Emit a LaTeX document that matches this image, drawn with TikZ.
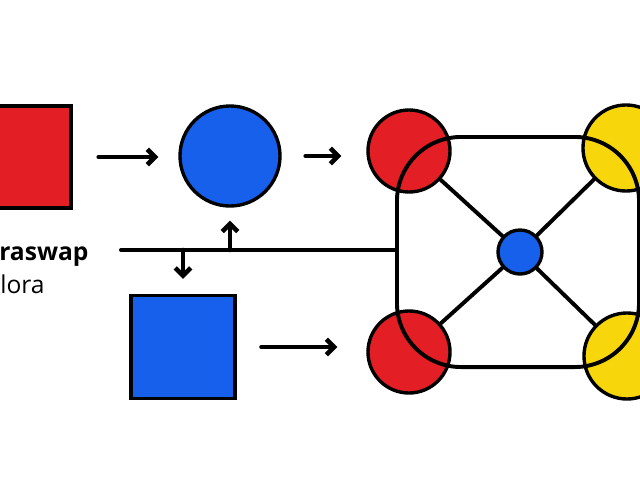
\documentclass[tikz,border=0pt]{standalone}
\usepackage{fontspec}
\setmainfont{Open Sans}
\usetikzlibrary{calc,arrows.meta,backgrounds}
\definecolor{sqred}{RGB}{227, 30, 36}
\definecolor{sqblue}{RGB}{22, 96, 235}
\definecolor{dotyellow}{RGB}{247, 215, 12}
\tikzset{
  blob/.style={circle,draw,line width=2.4pt,inner sep=0pt},
  tile/.style={rectangle,draw,line width=2.4pt,inner sep=0pt},
  arr/.style={line width=3.3pt,line cap=round,-{Straight Barb[length=5.5pt,width=11pt]}},
  bus/.style={line width=2.8pt,line cap=round},
}
\begin{document}
\begin{tikzpicture}[x=0.025cm,y=-0.025cm]
    \useasboundingbox (0,0) rectangle (640,480);
      % shapes
      \node[tile,fill=sqred,minimum width=2.6cm,minimum height=2.55cm] (rs) at (19,157) {};
      \node[blob,fill=sqblue,minimum size=2.5cm] (bc) at (230,156) {};
      \node[tile,fill=sqblue,minimum width=2.6cm,minimum height=2.58cm] (bs) at (183,347) {};
      \node[blob,fill=sqred,minimum size=2.05cm] (r1) at (409,151) {};
      \node[blob,fill=sqred,minimum size=2.05cm] (r2) at (409,352) {};
      \node[blob,fill=dotyellow,minimum size=2.15cm] (y1) at (626,148) {};
      \node[blob,fill=dotyellow,minimum size=2.15cm] (y2) at (627,356) {};
      \node[blob,fill=sqblue,minimum size=1.1cm] (cb) at (520,252) {};
      \begin{pgfonlayer}{background}
        \draw[bus] (cb) -- (r1);
        \draw[bus] (cb) -- (r2);
        \draw[bus] (cb) -- (y1);
        \draw[bus] (cb) -- (y2);
      \end{pgfonlayer}
      \node[draw,line width=2.8pt,rounded corners=1.6cm,minimum width=6.05cm,
            minimum height=5.75cm] (box) at (518,252) {};

      % labels
      \node[anchor=base west,inner sep=0pt,font=\fontsize{17.5}{20}\selectfont\bfseries] (t1) at (-1,260) {raswap};
      \node[anchor=base west,inner sep=0pt,font=\fontsize{17.5}{20}\selectfont] (t2) at (0,293) {lora};

      % flow
      \draw[arr,shorten <=0.65cm,shorten >=0.5cm] (rs) -- (rs -| bc.west);
      \draw[arr,shorten <=0.6cm] (bc.east) -- ([xshift=-0.62cm]bc.east -| r1.west);
      \draw[arr,shorten <=0.62cm,shorten >=0.72cm] (bs.east) -- (bs.east -| r2.west);
      \coordinate (l0) at (121,250);
      \draw[bus] (l0) -- (l0 -| box.west);
      \draw[arr] (bc |- l0) -- ([yshift=-0.32cm]bc.south);
      \draw[arr] (bs |- l0) -- ([yshift=0.37cm]bs.north);
  \end{tikzpicture}
\end{document}
